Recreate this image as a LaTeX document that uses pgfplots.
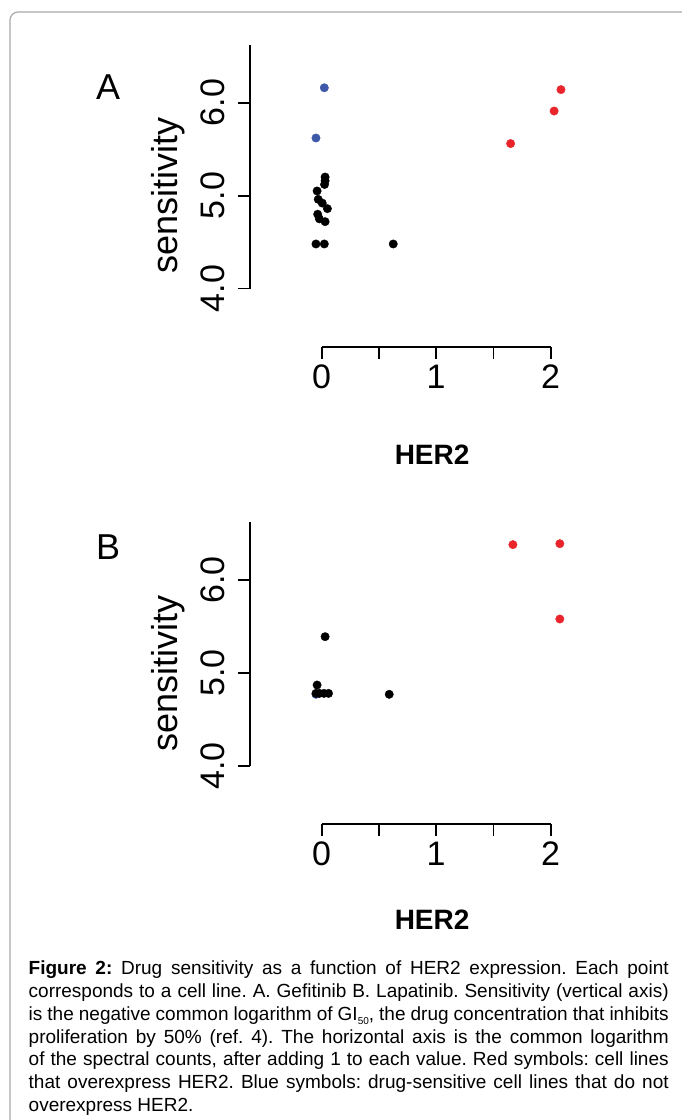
\documentclass[border=0pt]{standalone}
\usepackage{fontspec}
\setmainfont{Liberation Sans}
\usepackage{pgfplots}
\pgfplotsset{compat=1.18}
\definecolor{dotred}{HTML}{E9242A}
\definecolor{dotblue}{HTML}{3D59A8}
\definecolor{framegray}{HTML}{A8A8A8}

\pgfplotsset{
  rpanel/.style={
    scale only axis, width=329.3pt, height=301.7pt,
    xmin=-0.626, xmax=2.25, ymin=3.375, ymax=6.62,
    clip=false,
    axis x line*=bottom, axis y line*=left,
    axis line style={draw=none},
    tick align=outside, major tick length=12pt,
    tick style={black, line width=1.8pt},
    xtick={0,0.5,1,1.5,2}, xticklabels={0,,1,,2},
    ytick={4,5,6},
    /pgf/number format/assume math mode=true,
    tick label style={font=\fontsize{34}{34}\selectfont},
    xticklabel style={anchor=north, inner sep=4pt, yshift=-2pt},
    yticklabel style={/pgf/number format/fixed, /pgf/number format/fixed zerofill,
      /pgf/number format/precision=1, rotate=90, anchor=south, inner sep=13pt},
    xlabel={HER2},
    xlabel style={font=\bfseries\fontsize{28}{28}\selectfont, anchor=center},
    ylabel={sensitivity},
    ylabel style={font=\fontsize{36}{36}\selectfont,
      at={(axis description cs:-0.248,0.5)}, anchor=center},
  },
  rdot/.style={only marks, mark=*, mark size=4.2pt, #1, mark options={draw=none, fill=#1}},
}

\begin{document}
\begin{tikzpicture}
\useasboundingbox (0pt,0pt) rectangle (681pt,-1120pt);
\fill[white] (0pt,0pt) rectangle (681pt,-1120pt);
\draw[framegray, line width=1.2pt, rounded corners=8pt] (10pt,-1140pt) -- (10pt,-12pt) -- (700pt,-12pt);

% panel A: gefitinib
\begin{axis}[rpanel, at={(250pt,-346.7pt)}, anchor=south west,
  xlabel style={at={(axis description cs:0.553,-0.359)}}]
\draw[line width=1.8pt] (axis cs:0,3.375) -- (axis cs:2,3.375);
\draw[line width=1.8pt] (axis cs:-0.626,4) -- (axis cs:-0.626,6.62);
\addplot[rdot=black] coordinates {
  (-0.05,4.48) (0.023,4.48) (0.625,4.48)
  (0.03,5.20) (0.03,5.16) (0.025,5.12) (-0.04,5.05) (-0.03,4.96)
  (0.005,4.92) (0.05,4.86) (-0.035,4.80) (-0.02,4.75) (0.03,4.72)
};
\addplot[rdot=dotblue] coordinates {(0.023,6.16) (-0.05,5.62)};
\addplot[rdot=dotred] coordinates {(2.09,6.14) (2.03,5.91) (1.65,5.56)};
\node[font=\fontsize{36}{36}\selectfont] at (axis description cs:-0.431,0.859) {A};
\end{axis}

% panel B: lapatinib
\begin{axis}[rpanel, at={(250pt,-824pt)}, anchor=south west,
  xlabel style={at={(axis description cs:0.553,-0.318)}}]
\draw[line width=1.8pt] (axis cs:0,3.375) -- (axis cs:2,3.375);
\draw[line width=1.8pt] (axis cs:-0.626,4) -- (axis cs:-0.626,6.62);
\addplot[rdot=dotblue] coordinates {(-0.05,4.77)};
\addplot[rdot=black] coordinates {
  (0.03,5.39) (0.59,4.77) (-0.04,4.87) (-0.05,4.78) (-0.02,4.78)
  (0.02,4.78) (0.06,4.78)
};
\addplot[rdot=dotred] coordinates {(1.67,6.38) (2.08,6.39) (2.08,5.58)};
\node[font=\fontsize{36}{36}\selectfont] at (axis description cs:-0.431,0.917) {B};
\end{axis}

\node[anchor=north west, inner sep=0pt, text width=640pt, align=justify,
  font=\fontsize{19}{22.7}\selectfont\frenchspacing] at (28.5pt,-961pt) {%
\textbf{Figure 2:} Drug sensitivity as a function of HER2 expression. Each point\linebreak
corresponds to a cell line. A. Gefitinib B. Lapatinib. Sensitivity (vertical axis)\linebreak
is the negative common logarithm of GI\raisebox{-4.5pt}{\fontsize{10}{10}\selectfont 50}, the drug concentration that inhibits\linebreak
proliferation by 50\% (ref. 4). The horizontal axis is the common logarithm\linebreak
of the spectral counts, after adding 1 to each value. Red symbols: cell lines\linebreak
that overexpress HER2. Blue symbols: drug-sensitive cell lines that do not\linebreak
overexpress HER2.};
\end{tikzpicture}
\end{document}
